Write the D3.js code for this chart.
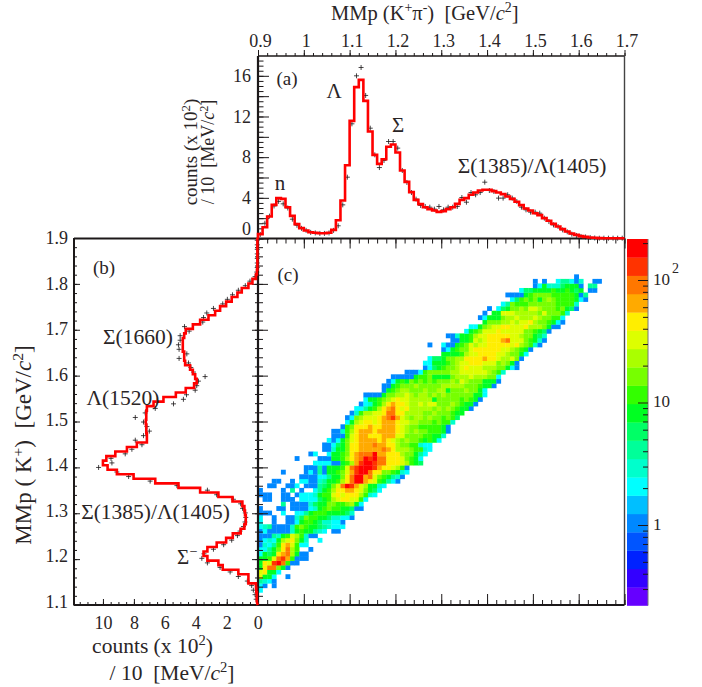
<!DOCTYPE html>
<html>
<head>
<meta charset="utf-8">
<script src="https://cdn.jsdelivr.net/npm/d3@7"></script>
<style>
body { margin: 0; background: #fff; }
text { font-family: "Liberation Serif", serif; fill: #2a2526; }
</style>
</head>
<body>
<div class="canvas"></div>
<script>
// counts per 10 MeV bin, MMp(K+ pi-) from 0.90 GeV, one value per bin
const histA = [0.43,1.11,2.16,3.31,3.97,3.9,3.08,2.23,1.41,1.02,0.79,0.62,0.56,0.52,0.52,0.56,0.85,1.8,3.74,7.21,
  11.57,14.89,15.6,13.54,10.52,8.23,7.34,7.8,9.02,9.25,8.46,6.69,5.57,4.56,3.8,3.38,3.08,2.89,2.75,2.62,
  2.69,2.89,3.08,3.41,3.8,3.97,4.3,4.52,4.72,4.79,4.79,4.66,4.52,4.36,4.13,3.9,3.61,3.28,2.95,2.75,
  2.49,2.3,2,1.74,1.44,1.18,0.92,0.69,0.49,0.36,0.23,0.16,0.1,0.07,0.04,0.03,0.03,0.03,0.03,0.03];
const pointsA = [0.4,1.5,2.2,3.2,3.65,3.41,3,1.9,1.3,1,0.8,0.6,0.55,0.5,0.5,0.55,0.8,1.25,3.31,6.03,
  11.28,16,16.82,14.07,10.85,8.23,6.98,7.67,9.54,9.54,8.89,6.69,5.51,4.52,3.87,3.25,3.15,3.08,2.89,3.15,
  2.82,3.08,3.08,3.15,4.03,3.57,4.52,4.3,4.52,5.54,4.72,4.62,3.97,3.97,4.3,3.97,3.64,3.08,2.82,2.59,
  2.59,2.49,2,1.67,1.34,1.18,0.85,0.66,0.43,0.3,0.2,0.15,0.1,0.05,0.03,0.03,0.03,0.03,0.03,0.03];

// counts per 10 MeV bin, MMp(K+) from 1.10 GeV
const histB = [0.06,0.06,0.09,0.11,0.6,0.6,1.25,2.26,2.54,3.25,3.5,3.25,2.65,2.04,1.61,1.1,0.86,0.77,0.77,0.82,
  0.86,0.99,1.63,2.54,3.72,5.12,6.62,8.02,9.1,9.7,10,9.78,9.2,8.45,7.81,7.16,7.16,7.2,7.2,7.23,
  7.2,7.2,7.16,6.73,6.09,5.29,4.65,4.11,3.94,4.04,4.19,4.37,4.69,4.75,4.75,4.84,4.84,4.84,4.75,4.65,
  4.19,3.72,3.18,2.75,2.43,2.04,1.68,1.31,1.03,0.6,0.34,0.11,0.05,0.02,0.02,0.02,0.02,0.02,0.02,0.02];
const pointsB = [0.1,0.17,0.28,0.39,0.67,1.25,1.78,2.43,3.25,3.61,3.47,2.86,2.2,1.68,1.31,1.14,0.92,0.82,0.77,0.8,
  0.98,1.1,1.57,2.65,3.25,5.22,6.95,8.34,9.1,10.28,9.42,9.48,8.56,8.13,7.48,7.91,7.38,7,7.16,7.38,
  7.91,7.27,6.62,5.44,4.8,4.6,4.04,3.94,3.83,3.4,4.15,4.32,4.47,5.08,4.58,5.08,5.12,5.01,5.01,4.43,
  4.73,3.55,3.5,3.29,2.86,2.26,1.96,1.63,1.25,0.8,0.5,0.17,0.06,0.03,0.03,0.03,0.03,0.03,0.03,0.03];

// 2D histogram: colour level of each cell (0-9,a-j, "." is empty), one string per row from row 2 up
const heatFirstCol = [0,0,0,0,0,0,0,0,0,0,0,0,0,0,0,0,0,0,0,5,1,0,0,2,3,9,5,10,12,8,11,14,14,15,16,16,18,19,19,20,21,22,23,23,
  27,27,28,29,32,36,36,37,40,40,37,42,41,45,46,49,48,49,50,53,55,54,57,60,60,69];
const heatRows = [
  "6","64.4","8764","eaa6..4","efaa6","afhhca4","afeijhb44","aabehigb444","6a9afghda44","668acfhdb..4",
  "4768bfgeb66","4676adefca7..6","44487abedb744","46444447abaa876.44","67844447bcbaa987666",
  "6..4..446abba977664","6..4..4479cbbaa977664","444..6..668abbbaaaa97","4...44.444467abcbbaa944",
  "8.444479aaccbbcda6","44..444.66669abdeffeeb6","444..44.46667abbefefffdb76","4....4.8.4..68abdffggfeca96",
  "44..446.44489acehjigedaa76","44..4.664478aabdfhjjgfeba864","4444668aacfhjjghecba874",
  "4....464" + "84aabcegijjhffccba76","44484aaabehijjjigffedb4","66664" + "4abdgijjihhfffedba9",
  "4....444aabdfghjijhhfffecba6","46..6aabcfghhhjggfffdcca86","447aacffggggghgfdddcbb76","4469acffggghggffdccbb766",
  "646acefggggfgfedcdccbaba6","444befggfffgggeeccccbbaa7","447bdfgggfggggfedcdccbbba4","4bcfffgffgggfedccbbbbba4",
  "6adeffefgggfeeddcccbcbb7","46cdeeefghigedcddcdccbcb9","47bddeefhhffddddccdcccbaa","668abdfghfefdddddcdcdcbaa4",
  "467abdfgffeddedeecccdcbaa4","6aabcdefeedddddacccccbcba4","4444accddedcddcdcdccccccaa6","4abcddcccdccddacccdcca6",
  "44abcccdcccccdddddcccbaa4","46abacbcbcbcccdcedcccaaa4","44444abbcaaaacdddedddcc6","4446bcccccddeeeeeedcb7",
  "469abccdefeeedddcca64","66aaabcdeefffeeecdca4","699accddffffgffeddec4","aaaabdeeffffeedcca6","46abcceffffffeedcba4",
  "4..644abcedeefffffefdcb74","44aabedefffgheeecba74","447aabdeefffffeedcca97","6abceeefeeeeeccba94","66acdeeffeeefdddca44",
  "acccddedeefdccba64","46aaacddedddedccbb6","4.aaeeedddddcecccb7","4.69accdceedcccbca94","68cbbbccccccbbbb7",
  "69bcbcacdcbbbba64","4444abccccbbbbba48","699aaaabaaba9a.44","46a7779aaa4.88","4.4..688647..44","4"
];

// palette of the colour bar, level 0 at the bottom
const palette = ["#6600ff","#3300ff","#0022ff","#0055ff","#0088ff","#00bfff","#00ffff","#00ffcc","#00ff99","#00ff66",
  "#00ff22","#33ff00","#77ff00","#aaff00","#ddff00","#ffee00","#ffaa00","#ff7700","#ff3300","#ff0000"];
const levelKeys = "0123456789abcdefghij".split("");

const massTopTicks = [0.9,1,1.1,1.2,1.3,1.4,1.5,1.6,1.7];
const massTopLabels = ["0.9","1","1.1","1.2","1.3","1.4","1.5","1.6","1.7"];
const massSideTicks = [1.1,1.2,1.3,1.4,1.5,1.6,1.7,1.8,1.9];
const countTicksA = [0,4,8,12,16];
const countTicksB = [10,8,6,4,2,0];
const colorMajor = [1,10,100];
const colorMinor = [0.3,0.4,0.5,0.6,0.7,0.8,0.9,2,3,4,5,6,7,8,9,20,30,40,50,60,70,80,90,200];

const width = 702, height = 687;
const ink = "#1c1819";

// Scales
const xMass = d3.scaleLinear().domain([0.9,1.7]).range([258,624.5]);
const yCountA = d3.scaleLinear().domain([0,17.95]).range([238.5,56]);
const xCountB = d3.scaleLinear().domain([0,11.87]).range([257.7,74]);
const yMass = d3.scaleLinear().domain([1.1,1.9]).range([605,238]);
// the histogram (b), the 2D cells and the labels sit a little higher than the ticks in the original
const yHist = d3.scaleLinear().domain([1.1,1.9]).range([601.5,238]);
const yColor = d3.scaleLog().domain([1,100]).range([525,280]);
const barBand = d3.scaleBand().domain(d3.range(20)).range([605.5,239]);
const levelColor = d3.scaleOrdinal().domain(levelKeys).range(palette);

const svg = d3.select(".canvas").append("svg")
    .attr("width", width)
    .attr("height", height)
    .style("display", "block");

// 2D histogram
heatRows.forEach((row, r) => {
  svg.append("g").selectAll("rect")
    .data(row.split("").map((k, i) => ({ k, col: heatFirstCol[r] + i, row: r + 2 })).filter(d => d.k !== "."))
    .join("rect")
      .attr("x", d => xMass(0.9 + d.col * 0.01))
      .attr("y", d => yHist(1.1 + (d.row + 1) * 0.01))
      .attr("width", xMass(0.91) - xMass(0.9) + 0.3)
      .attr("height", yHist(1.1) - yHist(1.11) + 0.3)
      .attr("fill", d => levelColor(d.k));
});

// Colour bar
svg.append("g").selectAll("rect")
  .data(d3.range(20))
  .join("rect")
    .attr("x", 627)
    .attr("y", d => barBand(d))
    .attr("width", 21)
    .attr("height", barBand.bandwidth() + 0.3)
    .attr("fill", d => palette[d]);
svg.append("line").attr("x1", 648).attr("x2", 648).attr("y1", 239).attr("y2", 605.5)
  .attr("stroke", "#777").attr("stroke-width", 1);

function tickAxis(axis, x, y, width) {
  const g = svg.append("g").attr("transform", `translate(${x},${y})`).call(axis);
  g.select(".domain").remove();
  g.selectAll("line").attr("stroke", ink).attr("stroke-width", width || 1);
  return g;
}
const noLabel = () => "";
const minorMass = d3.range(0, 41).map(i => 0.9 + i * 0.02);
const minorSide = d3.range(0, 41).map(i => 1.1 + i * 0.02);

tickAxis(d3.axisLeft(yColor).tickValues(colorMajor).tickSize(10).tickFormat(noLabel), 648, 0);
tickAxis(d3.axisLeft(yColor).tickValues(colorMinor).tickSize(5).tickFormat(noLabel), 648, 0);

// Panel frames
const frame = [
  [258,56,624.5,56,1.3,ink],[624.5,56,624.5,605,1.4,"#444"],
  [74,238.5,624.5,238.5,1.8,ink],[74,605,624.5,605,2,ink],
  [74,238,74,605.5,2,ink],[258,56,258,605.5,2.2,ink]
];
svg.append("g").selectAll("line").data(frame).join("line")
  .attr("x1", d => d[0]).attr("y1", d => d[1]).attr("x2", d => d[2]).attr("y2", d => d[3])
  .attr("stroke-width", d => d[4]).attr("stroke", d => d[5]);

// Ticks, panel (a)
tickAxis(d3.axisBottom(xMass).tickValues(massTopTicks).tickSize(-6).tickFormat(noLabel), 0, 56);
tickAxis(d3.axisBottom(xMass).tickValues(minorMass).tickSize(-3).tickFormat(noLabel), 0, 56);
tickAxis(d3.axisBottom(xMass).tickValues(massTopTicks).tickSize(10).tickFormat(noLabel), 0, 238.5);
tickAxis(d3.axisBottom(xMass).tickValues(minorMass).tickSize(5).tickFormat(noLabel), 0, 238.5);
tickAxis(d3.axisRight(yCountA).tickValues(d3.range(0, 18, 2)).tickSize(11).tickFormat(noLabel), 258, 0);
tickAxis(d3.axisRight(yCountA).tickValues(d3.range(0, 18, 0.5)).tickSize(5.5).tickFormat(noLabel), 258, 0);

// Ticks, panel (c)
tickAxis(d3.axisTop(xMass).tickValues(massTopTicks).tickSize(11).tickFormat(noLabel), 0, 605);
tickAxis(d3.axisTop(xMass).tickValues(minorMass).tickSize(5).tickFormat(noLabel), 0, 605);
tickAxis(d3.axisRight(yMass).tickValues(massSideTicks).tickSize(10).tickFormat(noLabel), 258, 0);
tickAxis(d3.axisRight(yMass).tickValues(minorSide).tickSize(5).tickFormat(noLabel), 258, 0);
tickAxis(d3.axisLeft(yMass).tickValues(massSideTicks).tickSize(6).tickFormat(noLabel), 258, 0);
tickAxis(d3.axisLeft(yMass).tickValues(minorSide).tickSize(3).tickFormat(noLabel), 258, 0);

// Ticks, panel (b)
tickAxis(d3.axisRight(yMass).tickValues(massSideTicks).tickSize(6).tickFormat(noLabel), 74, 0);
tickAxis(d3.axisRight(yMass).tickValues(minorSide).tickSize(3).tickFormat(noLabel), 74, 0);
tickAxis(d3.axisTop(xCountB).tickValues(d3.range(0, 12, 2)).tickSize(6).tickFormat(noLabel), 0, 605);
tickAxis(d3.axisTop(xCountB).tickValues(d3.range(0, 12, 0.5)).tickSize(3).tickFormat(noLabel), 0, 605);

// Tick labels
function labelAxis(axis, x, y) {
  const g = svg.append("g").attr("transform", `translate(${x},${y})`).call(axis);
  g.select(".domain").remove();
  g.selectAll("line").remove();
  g.selectAll("text").style("font-family", '"Liberation Serif", serif').style("font-size", "18px").attr("fill", "#2a2526");
  return g;
}
labelAxis(d3.axisTop(xMass).tickValues(massTopTicks).tickSize(0).tickPadding(0)
  .tickFormat((d, i) => massTopLabels[i]), 2, 47);
const labelsA = labelAxis(d3.axisLeft(yCountA).tickValues(countTicksA).tickSize(0).tickPadding(0).tickFormat(d3.format("d")), 251, 0);
labelsA.selectAll(".tick").filter(d => d === 0).select("text").attr("y", -10);
labelAxis(d3.axisLeft(yHist).tickValues(massSideTicks).tickSize(0).tickPadding(0).tickFormat(d3.format(".1f")), 68, 0);
labelAxis(d3.axisBottom(xCountB).tickValues(countTicksB).tickSize(0).tickPadding(0).tickFormat(d3.format("d")), 0, 616);

// Data points
const plus = "M-2.5,0H2.5M0,-2.5V2.5";
svg.append("g").selectAll("path").data(pointsA).join("path")
  .attr("d", plus)
  .attr("transform", (d, i) => `translate(${xMass(0.905 + i * 0.01)},${yCountA(d)})`)
  .attr("fill", "none").attr("stroke", ink).attr("stroke-width", 0.8);
svg.append("g").selectAll("path").data(pointsB).join("path")
  .attr("d", plus)
  .attr("transform", (d, i) => `translate(${xCountB(d)},${yHist(1.105 + i * 0.01)})`)
  .attr("fill", "none").attr("stroke", ink).attr("stroke-width", 0.8);

// Histograms
const stepsA = histA.flatMap((v, i) => [[0.9 + i * 0.01, v], [0.91 + i * 0.01, v]]);
stepsA.unshift([0.9, 0]);
svg.append("path")
  .attr("d", d3.line().x(d => xMass(d[0])).y(d => yCountA(d[1]))(stepsA))
  .attr("fill", "none").attr("stroke", "#ff0000").attr("stroke-width", 2.6);
const stepsB = histB.flatMap((v, i) => [[v, 1.1 + i * 0.01], [v, 1.11 + i * 0.01]]);
stepsB.unshift([0, 1.092]);
svg.append("path")
  .attr("d", d3.line().x(d => xCountB(d[0])).y(d => yHist(d[1]))(stepsB))
  .attr("fill", "none").attr("stroke", "#ff0000").attr("stroke-width", 2.6);

// Text with superscripts: parts are strings or [string, kind]
function richText(x, y, parts, size, rotate, anchor) {
  const t = svg.append("text")
    .attr("transform", rotate ? `translate(${x},${y}) rotate(-90)` : `translate(${x},${y})`)
    .attr("text-anchor", anchor || "start")
    .style("font-size", size + "px")
    .style("white-space", "pre");
  let shifted = false;
  parts.forEach(p => {
    const part = typeof p === "string" ? [p] : p;
    const span = t.append("tspan").text(part[0]);
    if (part[1] === "i") span.style("font-style", "italic");
    if (part[1] === "sup") {
      span.style("font-size", (size * 0.68) + "px").attr("dy", shifted ? 0 : -size * 0.36);
      shifted = true;
    } else if (shifted) {
      span.attr("dy", size * 0.36);
      shifted = false;
    }
  });
}

richText(331, 19.5, ["MMp (K", ["+", "sup"], "π", ["-", "sup"], ")  [GeV/", ["c", "i"], ["2", "sup"], "]"], 20.5);
richText(197, 152, ["counts (x 10", ["2", "sup"], ")"], 19, true, "middle");
richText(214, 152, ["/ 10  [MeV/", ["c", "i"], ["2", "sup"], "]"], 18, true, "middle");
richText(31, 445, ["MMp ( K", ["+", "sup"], ")  [GeV/", ["c", "i"], ["2", "sup"], "]"], 23, true, "middle");
richText(152.5, 653, ["counts (x 10", ["2", "sup"], ")"], 21.5, false, "middle");
richText(172, 680, ["/ 10  [MeV/", ["c", "i"], ["2", "sup"], "]"], 21.5, false, "middle");

richText(653, 285, ["10"], 17);
richText(672, 273, ["2"], 14);
richText(653, 407, ["10"], 17);
richText(653, 530, ["1"], 17);

const notes = [
  ["(a)", 287, 85, 19], ["Λ", 334, 98, 21], ["Σ", 398, 132, 21], ["n", 280, 190, 21], ["Σ(1385)/Λ(1405)", 532, 173, 21.5],
  ["(b)", 104, 274, 19], ["Σ(1660)", 138, 344, 21.5], ["Λ(1520)", 123, 405, 21.5], ["Σ(1385)/Λ(1405)", 155.5, 519, 21.5], ["(c)", 288, 281, 19]
];
svg.append("g").selectAll("text").data(notes).join("text")
  .attr("x", d => d[1]).attr("y", d => d[2])
  .attr("text-anchor", "middle")
  .style("font-size", d => d[3] + "px")
  .text(d => d[0]);
richText(177, 564, ["Σ", ["−", "sup"]], 21);
</script>
</body>
</html>
